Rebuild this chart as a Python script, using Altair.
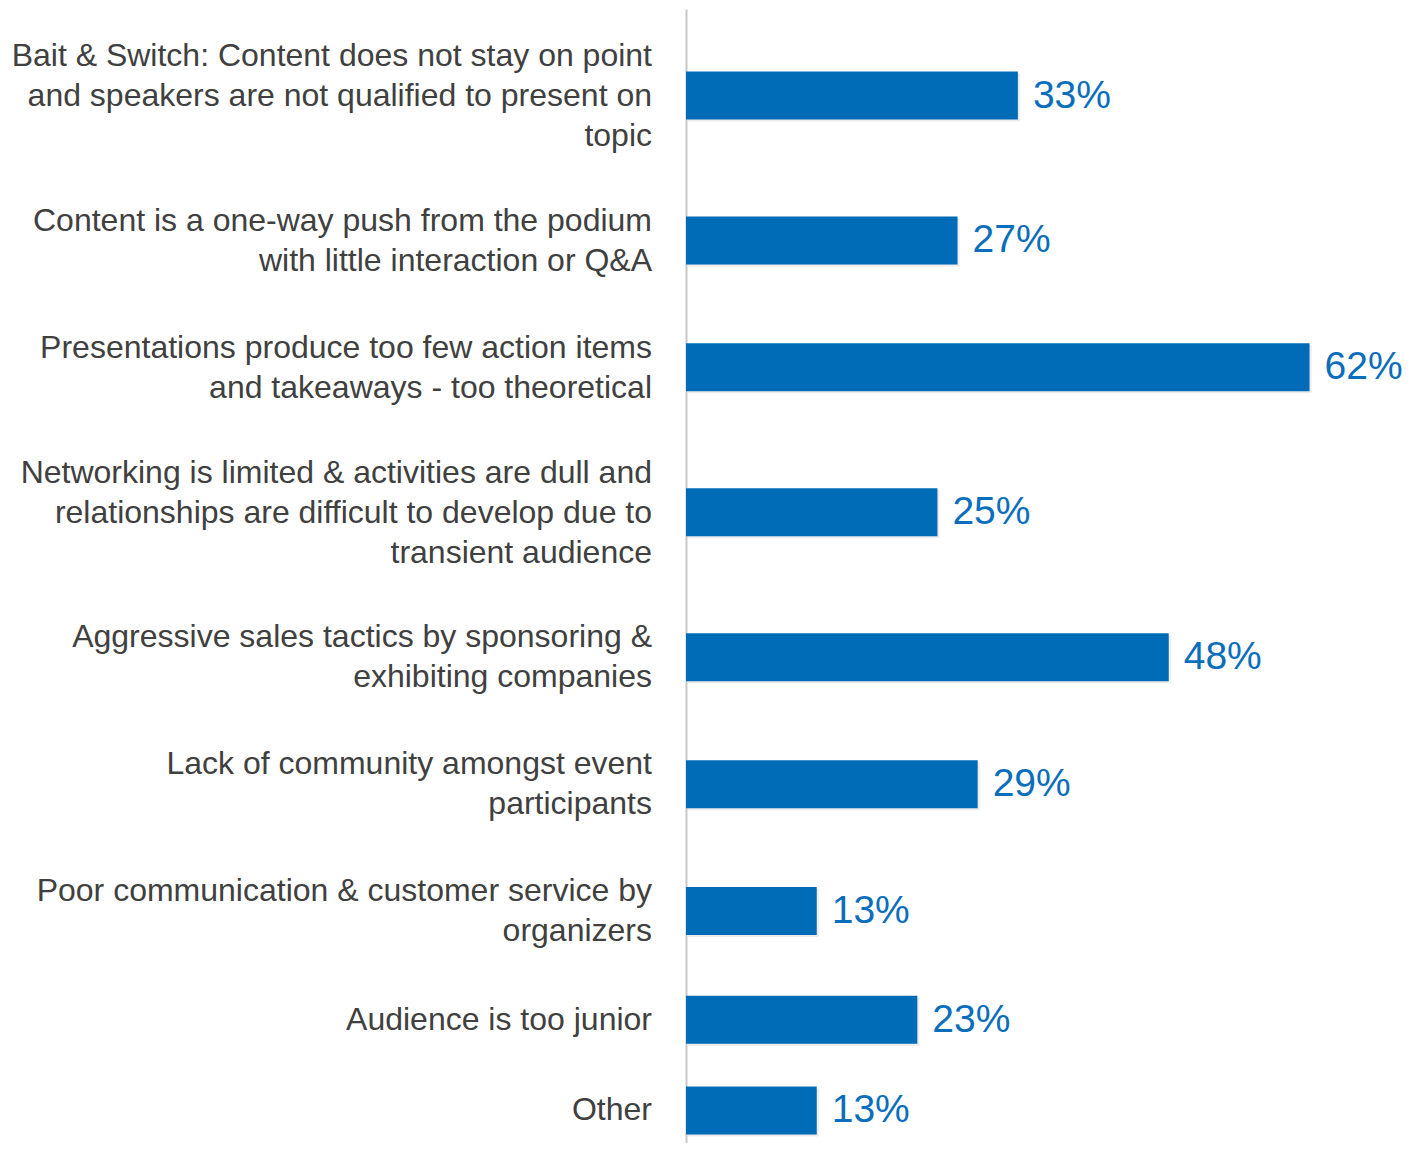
import altair as alt
import pandas as pd

labels = [
    "Bait & Switch: Content does not stay on point\nand speakers are not qualified to present on\ntopic",
    "Content is a one-way push from the podium\nwith little interaction or Q&A",
    "Presentations produce too few action items\nand takeaways - too theoretical",
    "Networking is limited & activities are dull and\nrelationships are difficult to develop due to\ntransient audience",
    "Aggressive sales tactics by sponsoring &\nexhibiting companies",
    "Lack of community amongst event\nparticipants",
    "Poor communication & customer service by\norganizers",
    "Audience is too junior",
    "Other",
]
values = [33, 27, 62, 25, 48, 29, 13, 23, 13]

# Row slots grow with the number of label lines (layout only)
SLOT_BASE, SLOT_PER_LINE = 55, 36.5
LINE_H = 40
lines = [len(s.split("\n")) for s in labels]
slots = [SLOT_BASE + SLOT_PER_LINE * n for n in lines]
pos, label_pos = [], []
acc = 0
for s, n in zip(slots, lines):
    c = acc + s / 2
    pos.append(c)
    label_pos.append(c - (n - 1) * LINE_H / 2)
    acc += s

df = pd.DataFrame({"label": labels, "value": values, "pos": pos,
                   "label_pos": label_pos})

PLOT_H = 1134
FONT = "Liberation Sans"

xscale = alt.Scale(domain=[0, 70], nice=False)
yscale = alt.Scale(domain=[0, PLOT_H], reverse=True, nice=False, zero=False)
yaxis = alt.Axis(labels=False, ticks=False, grid=False, title=None,
                 domainColor="#c8c8c8", domainWidth=2)

base = alt.Chart(df)

shadow = base.mark_bar(orient="horizontal", size=48, color="#000000",
                       opacity=0.08, xOffset=2, yOffset=2).encode(
    x=alt.X("value:Q", scale=xscale, axis=None),
    y=alt.Y("pos:Q", scale=yscale, axis=yaxis),
)

bars = base.mark_bar(orient="horizontal", size=48, color="#006CB7").encode(
    x=alt.X("value:Q", scale=xscale, axis=None),
    y=alt.Y("pos:Q", scale=yscale, axis=yaxis),
)

values_text = base.transform_calculate(
    txt="datum.value + '%'"
).mark_text(align="left", baseline="middle", dx=15, fontSize=39,
            font=FONT, color="#0A6EBD").encode(
    x=alt.X("value:Q", scale=xscale, axis=None),
    y=alt.Y("pos:Q", scale=yscale, axis=yaxis),
    text="txt:N",
)

cat_text = base.mark_text(align="right", baseline="middle", lineBreak="\n",
                          lineHeight=LINE_H, fontSize=32, font=FONT,
                          color="#404040").encode(
    x=alt.value(-34),
    y=alt.Y("label_pos:Q", scale=yscale, axis=yaxis),
    text="label:N",
)

chart = alt.layer(shadow, bars, values_text, cat_text).properties(
    width=704,
    height=PLOT_H,
    autosize=alt.AutoSizeParams(type="none"),
    padding={"left": 678, "top": 1, "right": 23, "bottom": 0},
    background="white",
).configure_view(stroke=None)

chart.save("out.html", embed_options={"renderer": "svg", "actions": False})
